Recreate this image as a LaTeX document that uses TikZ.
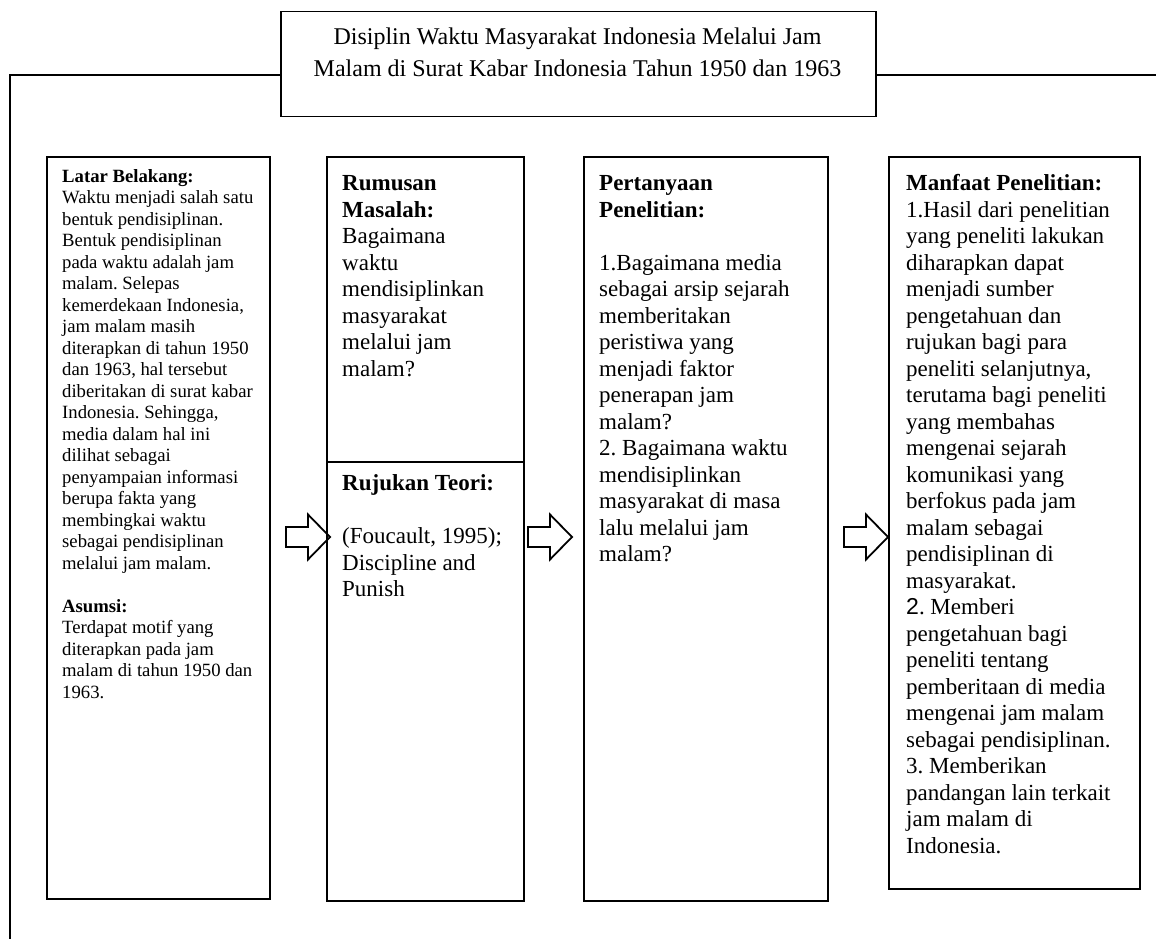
\documentclass[tikz,border=0pt]{standalone}
\usepackage{fontspec}
\setmainfont{Liberation Serif}
\newfontfamily\sansnum{Liberation Sans}
\frenchspacing
\begin{document}
\begin{tikzpicture}[x=1pt,y=-1pt,
  box/.style={draw, line width=2pt, rectangle, inner sep=0pt, anchor=north west},
  txt/.style={anchor=base west, inner sep=0pt, align=left, font=\fontsize{23}{26.5}\selectfont},
  smalltxt/.style={anchor=base west, inner sep=0pt, align=left, font=\fontsize{18.7}{21.5}\selectfont},
  titletxt/.style={anchor=base, inner sep=0pt, align=center, font=\fontsize{24}{31.7}\selectfont},
  frameline/.style={line width=2.3pt},
  barrow/.pic={\draw[line width=1.8pt, line join=miter] (-44,-10) -- (-22,-10) -- (-22,-22.5) -- (0,0) -- (-22,22.5) -- (-22,10) -- (-44,10) -- cycle;}
]
\useasboundingbox (0,0) rectangle (1156,939);
\fill[white] (0,0) rectangle (1156,939);

% title
\node[box, line width=1.5pt, minimum width=595pt, minimum height=105pt] (title) at (280,11) {};
\node[titletxt] (titletext) at (577.5,76.7) {Disiplin Waktu Masyarakat Indonesia Melalui Jam\\Malam di Surat Kabar Indonesia Tahun 1950 dan 1963};

% frame
\coordinate (fl) at (10,75);
\coordinate (fbl) at (10,939);
\coordinate (fr) at (1156,75);
\draw[frameline] (title.west |- fl) -- (fl) -- (fbl);
\draw[frameline] (title.east |- fr) -- (fr);

% boxes
\node[box, minimum width=223pt, minimum height=742pt] (b1) at (46,156) {};
\node[box, minimum width=197pt, minimum height=305pt] (b2a) at (326,156) {};
\node[box, minimum width=197pt, minimum height=439pt] (b2b) at (326,461) {};
\node[box, minimum width=244pt, minimum height=744pt] (b3) at (583,156) {};
\node[box, minimum width=251pt, minimum height=732pt] (b4) at (888,156) {};

% texts (anchor = baseline of the last line)
\node[smalltxt] (t1) at (62,698) {\textbf{Latar Belakang:}\\
Waktu menjadi salah satu\\
bentuk pendisiplinan.\\
Bentuk pendisiplinan\\
pada waktu adalah jam\\
malam. Selepas\\
kemerdekaan Indonesia,\\
jam malam masih\\
diterapkan di tahun 1950\\
dan 1963, hal tersebut\\
diberitakan di surat kabar\\
Indonesia. Sehingga,\\
media dalam hal ini\\
dilihat sebagai\\
penyampaian informasi\\
berupa fakta yang\\
membingkai waktu\\
sebagai pendisiplinan\\
melalui jam malam.\\[21.5pt]
\textbf{Asumsi:}\\
Terdapat motif yang\\
diterapkan pada jam\\
malam di tahun 1950 dan\\
1963.};

\node[txt] (t2a) at (342,376) {\textbf{Rumusan}\\
\textbf{Masalah:}\\
Bagaimana\\
waktu\\
mendisiplinkan\\
masyarakat\\
melalui jam\\
malam?};

\node[txt] (t2b) at (342,596.7) {\textbf{Rujukan Teori:}\\[26.5pt]
(Foucault, 1995);\\
Discipline and\\
Punish};

\node[txt] (t3) at (599,561.5) {\textbf{Pertanyaan}\\
\textbf{Penelitian:}\\[26.5pt]
1.Bagaimana media\\
sebagai arsip sejarah\\
memberitakan\\
peristiwa yang\\
menjadi faktor\\
penerapan jam\\
malam?\\
2. Bagaimana waktu\\
mendisiplinkan\\
masyarakat di masa\\
lalu melalui jam\\
malam?};

\node[txt] (t4) at (906,853.2) {\textbf{Manfaat Penelitian:}\\
1.Hasil dari penelitian\\
yang peneliti lakukan\\
diharapkan dapat\\
menjadi sumber\\
pengetahuan dan\\
rujukan bagi para\\
peneliti selanjutnya,\\
terutama bagi peneliti\\
yang membahas\\
mengenai sejarah\\
komunikasi yang\\
berfokus pada jam\\
malam sebagai\\
pendisiplinan di\\
masyarakat.\\
{\sansnum 2}. Memberi\\
pengetahuan bagi\\
peneliti tentang\\
pemberitaan di media\\
mengenai jam malam\\
sebagai pendisiplinan.\\
3. Memberikan\\
pandangan lain terkait\\
jam malam di\\
Indonesia.};

% block arrows
\coordinate (a1) at (330,537);
\coordinate (a2) at (572,537);
\coordinate (a3) at (888,537);
\pic at (a1) {barrow};
\pic at (a2) {barrow};
\pic at (a3) {barrow};
\end{tikzpicture}
\end{document}
